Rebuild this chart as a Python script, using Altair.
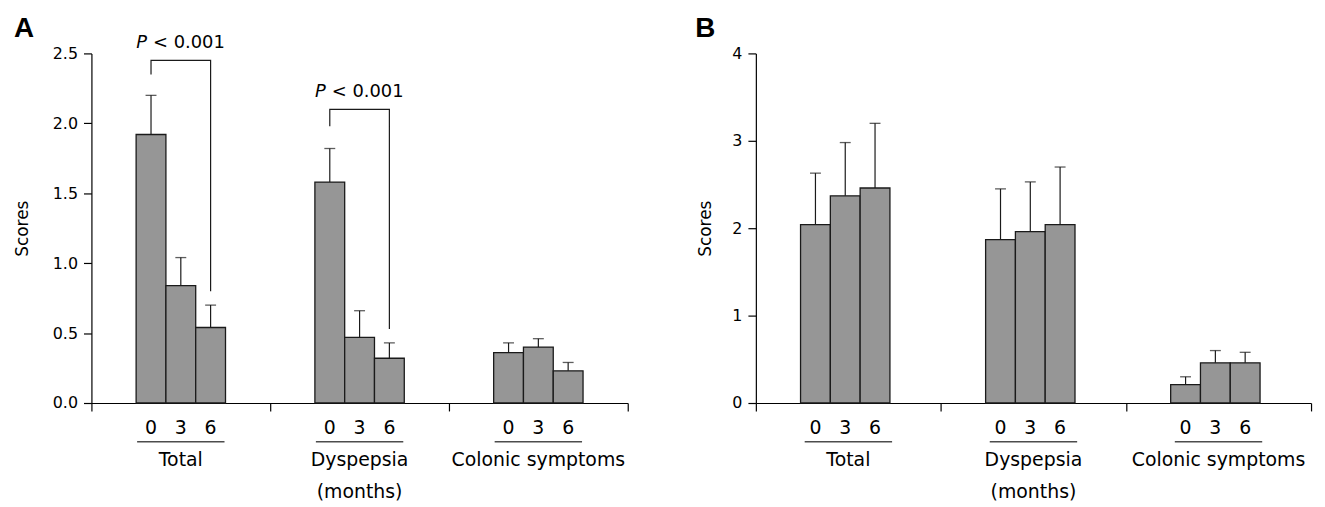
import altair as alt
import pandas as pd

FONT = "Liberation Sans"
XFONT = "DejaVu Sans"

groups = ["Total", "Dyspepsia", "Colonic symptoms"]
months = ["0", "3", "6"]
months_note = "(months)"
months_note_group = "Dyspepsia"

# Panel A: mean scores and upper error-bar ends
a_total = [1.92, 0.84, 0.54]
a_total_err = [2.20, 1.04, 0.70]
a_dysp = [1.58, 0.47, 0.32]
a_dysp_err = [1.82, 0.66, 0.43]
a_colon = [0.36, 0.40, 0.23]
a_colon_err = [0.43, 0.46, 0.29]

# Panel B
b_total = [2.04, 2.37, 2.46]
b_total_err = [2.63, 2.98, 3.20]
b_dysp = [1.87, 1.96, 2.04]
b_dysp_err = [2.45, 2.53, 2.70]
b_colon = [0.21, 0.46, 0.46]
b_colon_err = [0.30, 0.60, 0.58]

# Significance brackets (panel A)
bracket_groups = ["Total", "Dyspepsia"]
bracket_top = [2.45, 2.10]
bracket_left_end = [2.35, 1.98]
bracket_right_end = [0.80, 0.53]
bracket_p = "< 0.001"

a_ticks = [0, 0.5, 1.0, 1.5, 2.0, 2.5]
b_ticks = [0, 1, 2, 3, 4]


def panel_df(means, errs):
    rows = []
    for g, m_list, e_list in zip(groups, means, errs):
        for mo, m, e in zip(months, m_list, e_list):
            rows.append({"group": g, "month": mo, "value": m, "err": e})
    return pd.DataFrame(rows)


def make_panel(df, ymax, ticks, fmt, width, letter, letter_x, title_pad, brackets=None):
    height = 352
    band = width / len(groups)
    bar_w = 30
    x = alt.X(
        "group:N", sort=groups,
        scale=alt.Scale(paddingInner=0, paddingOuter=0),
        axis=alt.Axis(labels=False, title=None, tickBand="extent", tickSize=8,
                      domainColor="black", tickColor="black", domainWidth=1.2,
                      tickWidth=1.2, grid=False),
    )
    xo = alt.XOffset("month:N", sort=months,
                     scale=alt.Scale(paddingInner=0, paddingOuter=0,
                                     range=[band / 2 - 1.5 * bar_w,
                                            band / 2 + 1.5 * bar_w]))
    yscale = alt.Scale(domain=[0, ymax], nice=False, zero=True)
    y = alt.Y(
        "value:Q", scale=yscale,
        axis=alt.Axis(values=ticks, format=fmt, title="Scores", titleFontSize=17,
                      titleFont=XFONT, titleFontWeight="normal", titleColor="black",
                      titlePadding=title_pad, labelFont=XFONT, labelFontSize=16,
                      labelColor="black", labelPadding=6, tickSize=8,
                      domainColor="black", tickColor="black", domainWidth=1.2,
                      tickWidth=1.2, grid=False),
    )
    base = alt.Chart(df)
    bars = base.mark_bar(fill="#969696", stroke="#1a1a1a", strokeWidth=1.3).encode(
        x=x, xOffset=xo, y=y)
    rules = base.mark_rule(color="#1a1a1a", strokeWidth=1.2).encode(
        x=x, xOffset=xo, y=alt.Y("value:Q", scale=yscale), y2="err:Q")
    caps = base.mark_tick(color="#1a1a1a", orient="horizontal", size=11,
                          thickness=1.3).encode(
        x=x, xOffset=xo, y=alt.Y("err:Q", scale=yscale))
    mlabels = base.mark_text(font=XFONT, fontSize=19, color="black",
                             baseline="middle").encode(
        x=x, xOffset=xo, y=alt.value(height + 25), text="month:N")

    gdf = pd.DataFrame({"group": groups})
    gbase = alt.Chart(gdf)
    underline = gbase.mark_tick(color="black", orient="horizontal", size=88,
                                thickness=1.3).encode(x=x, y=alt.value(height + 39))
    gnames = gbase.mark_text(font=XFONT, fontSize=19, color="black",
                             baseline="middle").encode(
        x=x, y=alt.value(height + 57), text="group:N")
    note = alt.Chart(pd.DataFrame({"group": [months_note_group],
                                   "t": [months_note]})).mark_text(
        font=XFONT, fontSize=19, color="black", baseline="middle").encode(
        x=x, y=alt.value(height + 90), text="t:N")
    letter_mark = alt.Chart(pd.DataFrame({"t": [letter]})).mark_text(
        font=FONT, fontSize=28, fontWeight="bold", color="black", align="left",
        baseline="alphabetic").encode(
        x=alt.value(letter_x), y=alt.value(-17), text="t:N")

    layers = [bars, rules, caps, mlabels, underline, gnames, note, letter_mark]

    if brackets is not None:
        brows = []
        trows = []
        for g, top, le, re_ in zip(*brackets):
            brows += [
                {"group": g, "month": months[0], "v": le, "o": 0},
                {"group": g, "month": months[0], "v": top, "o": 1},
                {"group": g, "month": months[-1], "v": top, "o": 2},
                {"group": g, "month": months[-1], "v": re_, "o": 3},
            ]
            trows.append({"group": g, "top": top, "p": "P", "rest": bracket_p})
        bdf = pd.DataFrame(brows)
        tdf = pd.DataFrame(trows)
        bline = alt.Chart(bdf).mark_line(color="#1a1a1a", strokeWidth=1.2).encode(
            x=x, xOffset=xo, y=alt.Y("v:Q", scale=yscale),
            order="o:Q", detail="group:N")
        ptxt = alt.Chart(tdf).mark_text(font=XFONT, fontSize=18, fontStyle="italic",
                                        color="black", align="right",
                                        baseline="alphabetic", dx=-34, dy=-12).encode(
            x=x, y=alt.Y("top:Q", scale=yscale), text="p:N")
        rtxt = alt.Chart(tdf).mark_text(font=XFONT, fontSize=18, color="black",
                                        align="left", baseline="alphabetic",
                                        dx=-28, dy=-12).encode(
            x=x, y=alt.Y("top:Q", scale=yscale), text="rest:N")
        layers += [bline, ptxt, rtxt]

    return alt.layer(*layers).properties(width=width, height=height)


dfa = panel_df([a_total, a_dysp, a_colon], [a_total_err, a_dysp_err, a_colon_err])
dfb = panel_df([b_total, b_dysp, b_colon], [b_total_err, b_dysp_err, b_colon_err])

pa = make_panel(dfa, 2.5, a_ticks, ".1f", 540, "A", -78, 21,
                (bracket_groups, bracket_top, bracket_left_end, bracket_right_end))
pb = make_panel(dfb, 4, b_ticks, "d", 559, "B", -61, 17)

chart = alt.hconcat(pa, pb, spacing=67).configure_view(stroke=None).properties(
    padding=5)

chart.save("out.html", embed_options={"renderer": "svg", "actions": False})
